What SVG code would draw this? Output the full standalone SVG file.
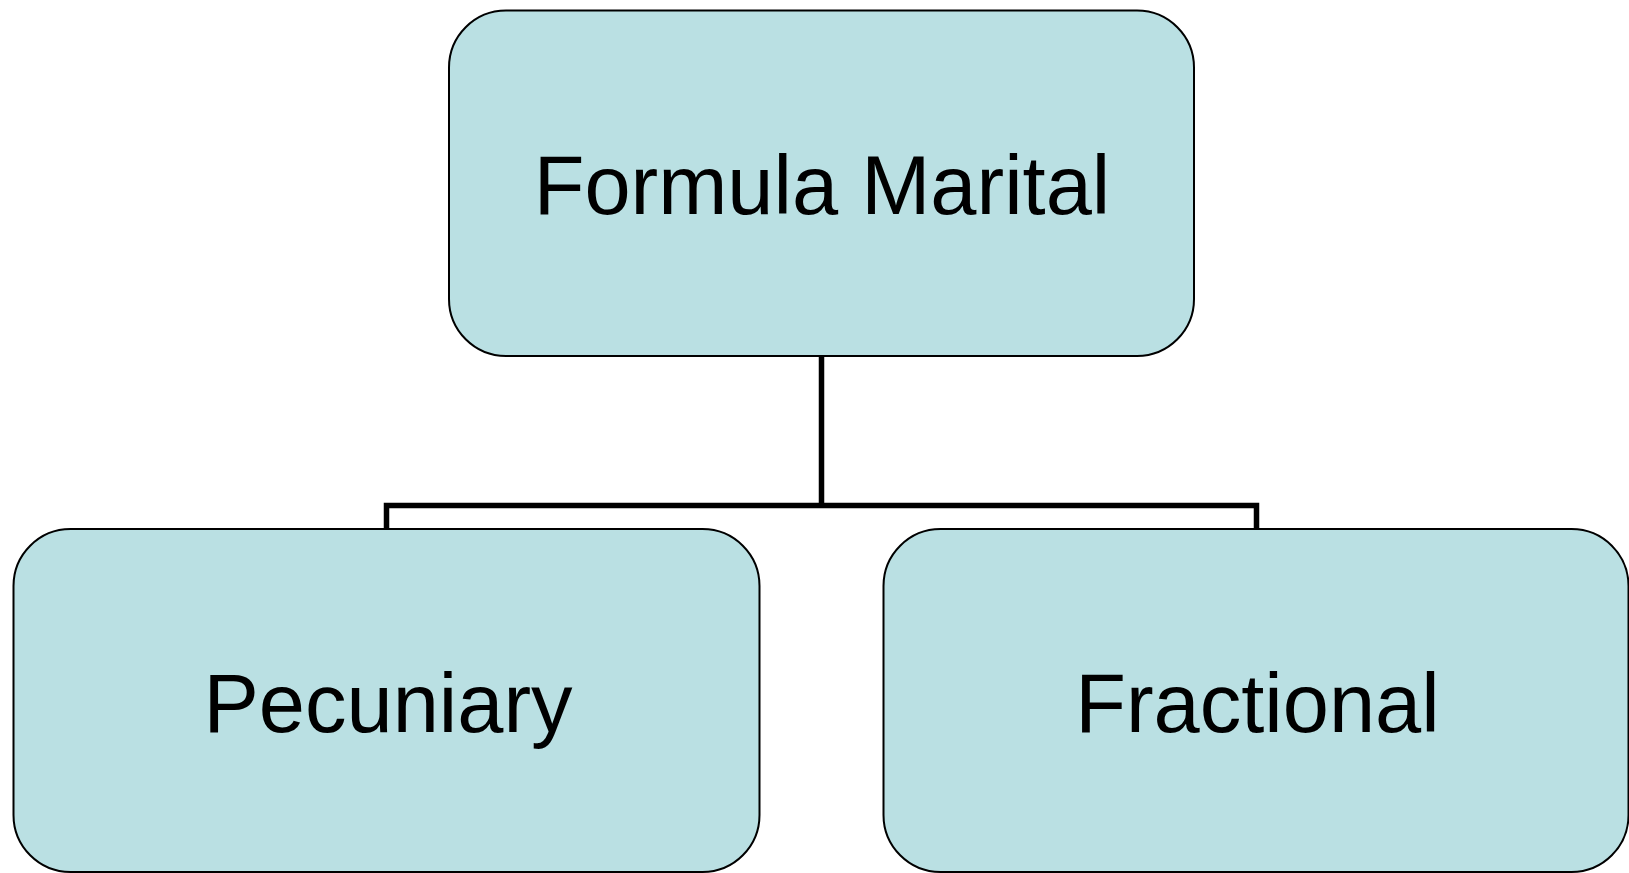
<svg xmlns="http://www.w3.org/2000/svg" width="1629" height="873" viewBox="0 0 1629 873">
<style>
.box{fill:#BAE0E3;stroke:#000;stroke-width:2}
.lbl{font-family:"Liberation Sans",Arial,sans-serif;font-size:83px;fill:#000;text-anchor:middle}
.conn{fill:none;stroke:#000;stroke-width:5.5}
</style>
<rect width="1629" height="873" fill="#fff"/>
<g id="connectors">
<path class="conn" d="M821.5,356 V505.5 M386.5,529 V505.5 H1256.5 V529"/>
</g>
<g id="node-formula-marital">
<rect class="box" x="449" y="10.5" width="745" height="345.5" rx="57" ry="57"/>
<text class="lbl" x="822" y="214">Formula Marital</text>
</g>
<g id="node-pecuniary">
<rect class="box" x="13.5" y="529" width="746" height="343" rx="57" ry="57"/>
<text class="lbl" x="388" y="731.5">Pecuniary</text>
</g>
<g id="node-fractional">
<rect class="box" x="883.5" y="529" width="745" height="343" rx="57" ry="57"/>
<text class="lbl" x="1257.5" y="731.5">Fractional</text>
</g>
</svg>
